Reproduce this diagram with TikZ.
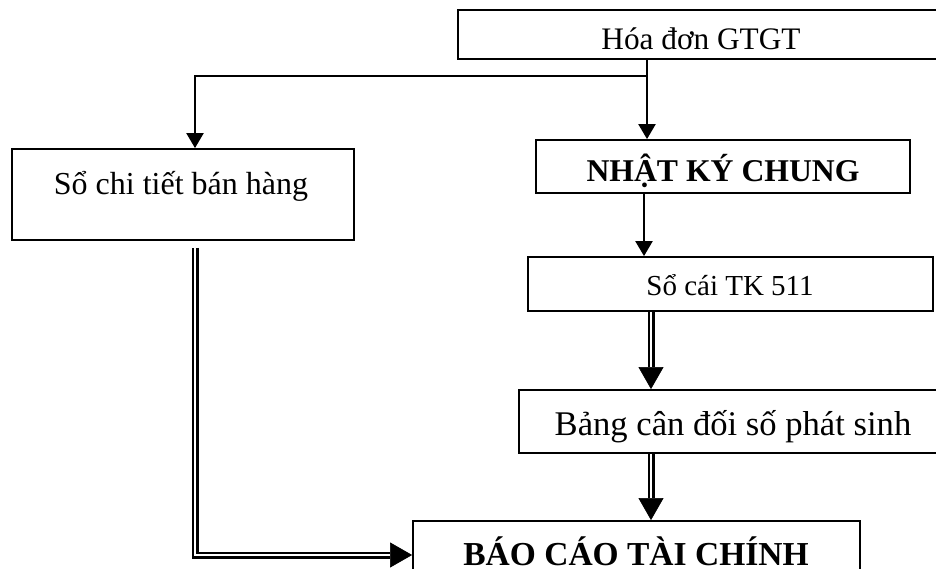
\documentclass[tikz,border=0pt]{standalone}
\usepackage{fontspec}
\setmainfont{Liberation Serif}
\usetikzlibrary{arrows.meta,calc}

\tikzset{
  box/.style={draw, line width=1.8pt, rectangle, inner sep=0pt},
  txt/.style={anchor=base, inner sep=0pt},
  arr/.style={line width=2.2pt, -{Triangle[length=15pt,width=17pt]}},
  dbl/.style={double, double distance=2.8pt, line width=2.1pt, line join=miter, shorten >=22pt},
  dbltip/.style={line width=0.5pt, -{Triangle[length=22pt,width=25pt]}}
}

\begin{document}
\begin{tikzpicture}[x=1pt, y=-1pt]
  \useasboundingbox (0,0) rectangle (936,569);
  \clip (0,0) rectangle (936,569);

  % boxes
  \node[box, minimum width=486pt, minimum height=49pt] (hd)   at (701,34.5)  {};
  \node[box, minimum width=342pt, minimum height=91pt] (sct)  at (183,194.5) {};
  \node[box, minimum width=374pt, minimum height=53pt] (nkc)  at (723,166.5) {};
  \node[box, minimum width=405pt, minimum height=54pt] (sc)   at (730.5,284) {};
  \node[box, minimum width=428pt, minimum height=63pt] (bcd)  at (733,421.5) {};
  \node[box, minimum width=447pt, minimum height=68pt] (bctc) at (636.5,555) {};

  % labels
  \node[txt] (hdt)   at (701,50)  {\fontsize{31.3}{32}\selectfont Hóa đơn GTGT};
  \node[txt] (sctt)  at (181,195) {\fontsize{32}{33}\selectfont Sổ chi tiết bán hàng};
  \node[txt] (nkct)  at (723,182) {\fontsize{31.7}{32}\selectfont\bfseries NHẬT KÝ CHUNG};
  \node[txt] (sct2)  at (730,295) {\fontsize{29}{30}\selectfont Sổ cái TK 511};
  \node[txt] (bcdt)  at (733,435) {\fontsize{34.6}{35}\selectfont Bảng cân đối số phát sinh};
  \node[txt] (bctct) at (636,565) {\fontsize{33.5}{34}\selectfont\bfseries BÁO CÁO TÀI CHÍNH};

  % single-line flows
  \draw[arr] ([xshift=-54pt]hd.south) -- ([xshift=-54pt]hd.south |- nkc.north);
  \draw[arr] ($(hd.south)+(-54,16)$) -| ([xshift=12pt]sct.north);
  \draw[arr] ([xshift=-79pt]nkc.south) -- ([xshift=-79pt]nkc.south |- sc.north);

  % double-line flows
  \draw[dbltip] ([xshift=-79.5pt]sc.south) -- ([xshift=-79.5pt]sc.south |- bcd.north);
  \draw[dbl]    ([xshift=-79.5pt]sc.south) -- ([xshift=-79.5pt]sc.south |- bcd.north);

  \draw[dbltip] ([xshift=-82pt]bcd.south) -- ([xshift=-82pt]bcd.south |- bctc.north);
  \draw[dbl]    ([xshift=-82pt]bcd.south) -- ([xshift=-82pt]bcd.south |- bctc.north);

  \draw[dbltip] ([xshift=12pt,yshift=-7pt]sct.south) |- (bctc.west);
  \draw[dbl]    ([xshift=12pt,yshift=-7pt]sct.south) |- (bctc.west);
\end{tikzpicture}
\end{document}
